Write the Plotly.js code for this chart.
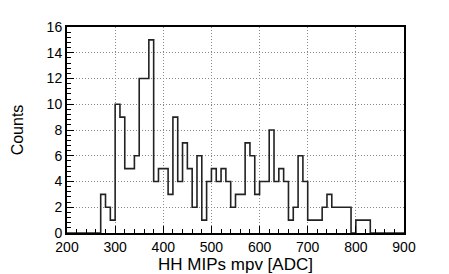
<!DOCTYPE html>
<html>
<head>
<meta charset="utf-8">
<script src="https://cdn.plot.ly/plotly-3.0.1.min.js"></script>
<style>html,body{margin:0;padding:0;background:#fff;}#chart{width:449px;height:274px;}</style>
</head>
<body>
<div id="chart"></div>
<script>
// Bin left edges (ADC), bin width 10
const binLeft = [200,210,220,230,240,250,260,270,280,290,
  300,310,320,330,340,350,360,370,380,390,
  400,410,420,430,440,450,460,470,480,490,
  500,510,520,530,540,550,560,570,580,590,
  600,610,620,630,640,650,660,670,680,690,
  700,710,720,730,740,750,760,770,780,790,
  800,810,820,830,840,850,860,870,880,890];
const xMax = 900;
const counts = [0,0,0,0,0,0,0,3,2,1,
  10,9,5,5,6,12,12,15,4,5,
  5,3,9,4,7,5,2,6,1,4,
  5,4,5,4,2,3,3,7,6,3,
  4,4,8,4,5,4,1,2,6,4,
  1,1,1,2,3,2,2,2,2,0,
  1,1,1,0,0,0,0,0,0,0];
const xTitle = "HH MIPs mpv [ADC]";
const yTitle = "Counts";

const xs = binLeft.concat([xMax]);
const ys = counts.concat([0]);

const font = "Liberation Sans, Arial, Helvetica, sans-serif";
const trace = {
  type: "scatter", mode: "lines", x: xs, y: ys,
  line: {shape: "hv", color: "#222", width: 1.6},
  hoverinfo: "skip"
};
const layout = {
  width: 449, height: 274,
  margin: {l: 67, r: 45, t: 27, b: 41},
  paper_bgcolor: "#fff", plot_bgcolor: "#fff",
  showlegend: false,
  font: {family: font, color: "#000"},
  xaxis: {
    range: [200, 900], tick0: 200, dtick: 100, tickmode: "linear",
    ticks: "inside", ticklen: 7, tickwidth: 1, tickcolor: "#000",
    minor: {ticks: "inside", dtick: 20, tick0: 200, ticklen: 4, tickwidth: 1, tickcolor: "#000", showgrid: false},
    showline: true, linewidth: 2, linecolor: "#000", mirror: true,
    showgrid: true, gridcolor: "#888", griddash: "1px,2px", gridwidth: 1,
    zeroline: false, tickfont: {size: 14, family: font},
    title: {text: xTitle, font: {size: 17, family: font}, standoff: 1}
  },
  yaxis: {
    range: [0, 16], tick0: 0, dtick: 2, tickmode: "linear",
    ticks: "inside", ticklen: 7, tickwidth: 1, tickcolor: "#000",
    minor: {ticks: "inside", dtick: 0.4, tick0: 0, ticklen: 4, tickwidth: 1, tickcolor: "#000", showgrid: false},
    showline: true, linewidth: 2, linecolor: "#000", mirror: true,
    showgrid: true, gridcolor: "#888", griddash: "1px,2px", gridwidth: 1,
    zeroline: false, tickfont: {size: 14, family: font},
    title: {text: yTitle, font: {size: 16, family: font}, standoff: 19}
  }
};
Plotly.newPlot("chart", [trace], layout, {displayModeBar: false, staticPlot: true});
</script>
</body>
</html>
